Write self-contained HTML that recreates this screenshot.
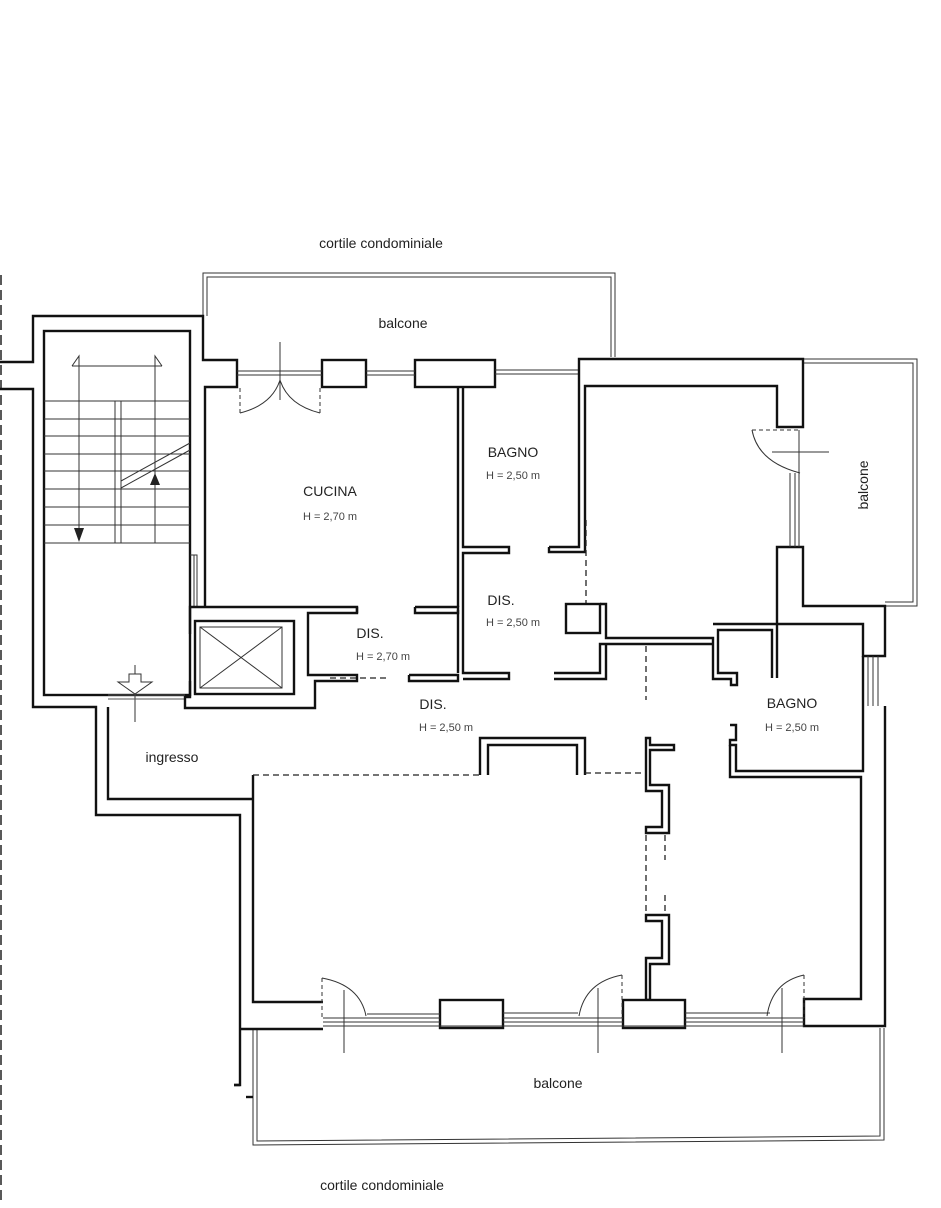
<!DOCTYPE html>
<html><head><meta charset="utf-8"><style>
html,body{margin:0;padding:0;background:#fff}
svg{display:block}
text{font-family:"Liberation Sans",sans-serif;fill:#222}
.w{fill:#fff;stroke:#111;stroke-width:2.4;stroke-linejoin:miter}
.l{fill:none;stroke:#111;stroke-width:2.4}
.t{fill:none;stroke:#333;stroke-width:1}
.d{fill:none;stroke:#222;stroke-width:1.3;stroke-dasharray:6 4}
.lab{font-size:14px}
.h{font-size:11px;fill:#444}
</style></head><body>
<svg width="941" height="1208" viewBox="0 0 941 1208" xmlns="http://www.w3.org/2000/svg">
<!-- left dashed boundary -->
<line x1="1" y1="275" x2="1" y2="1200" stroke="#222" stroke-width="1.5" stroke-dasharray="10 5"/>

<!-- top balcony -->
<polyline class="t" points="203,316 203,273 615,273 615,357"/>
<polyline class="t" points="207,316 207,277 611,277 611,357"/>
<!-- right balcony -->
<polyline class="t" points="803,359 917,359 917,606 885,606"/>
<polyline class="t" points="803,363 913,363 913,602 885,602"/>
<!-- bottom balcony -->
<polyline class="t" points="253,1029 253,1145 884,1140 884,1028"/>
<polyline class="t" points="257,1029 257,1141 880,1136 880,1028"/>

<!-- stair block -->
<polyline class="l" points="0,362 33,362 33,316 203,316 203,360 237,360 237,387 205,387 205,607"/>
<polyline class="l" points="0,389 33,389 33,707 96,707 96,815 240,815 240,1085 234,1085"/>
<rect x="44" y="331" width="146" height="364" class="w"/>
<polyline class="t" points="190,555 197,555 197,607"/>
<polyline class="t" points="194,555 194,607"/>
<!-- stairs -->
<g stroke="#333" stroke-width="1">
<line x1="44" y1="401" x2="190" y2="401"/><line x1="44" y1="419" x2="190" y2="419"/>
<line x1="44" y1="436" x2="190" y2="436"/><line x1="44" y1="454" x2="190" y2="454"/>
<line x1="44" y1="471" x2="190" y2="471"/><line x1="44" y1="489" x2="190" y2="489"/>
<line x1="44" y1="507" x2="190" y2="507"/><line x1="44" y1="525" x2="190" y2="525"/>
<line x1="44" y1="543" x2="190" y2="543"/>
<line x1="115" y1="401" x2="115" y2="543"/><line x1="121" y1="401" x2="121" y2="543"/>
<line x1="121" y1="488" x2="190" y2="450"/><line x1="121" y1="481" x2="190" y2="443"/>
<line x1="72" y1="366" x2="162" y2="366"/>
<line x1="79" y1="356" x2="79" y2="540"/><line x1="155" y1="356" x2="155" y2="543"/>
<polyline fill="none" points="72,366 79,356 79,366"/><polyline fill="none" points="162,366 155,356 155,366"/>
</g>
<polygon points="74,528 84,528 79,542" fill="#222"/>
<polygon points="150,485 160,485 155,473" fill="#222"/>
<!-- ingresso arrow -->
<line x1="135" y1="665" x2="135" y2="722" stroke="#333"/>
<polygon points="129,674 141,674 141,682 152,682 135,694 118,682 129,682" fill="#fff" stroke="#333"/>
<line x1="108" y1="695" x2="185" y2="695" stroke="#555" stroke-width="1"/>
<line x1="108" y1="699" x2="185" y2="699" stroke="#555" stroke-width="1"/>
<polyline class="l" points="108,707 108,799 253,799"/>

<!-- lift -->
<polyline class="l" points="190,634 190,607 357,607 357,613 308,613 308,675 357,675 357,681 315,681 315,708 185,708 185,697 190,697 190,681"/>
<rect x="195" y="621" width="99" height="73" class="w"/>
<rect x="200" y="627" width="82" height="61" class="t"/>
<line x1="200" y1="627" x2="282" y2="688" stroke="#333"/><line x1="282" y1="627" x2="200" y2="688" stroke="#333"/>
<line x1="330" y1="678" x2="390" y2="678" class="d"/>

<!-- top wall piers and windows -->
<rect x="322" y="360" width="44" height="27" class="w"/>
<rect x="415" y="360" width="80" height="27" class="w"/>
<g stroke="#333" stroke-width="1">
<line x1="237" y1="371" x2="322" y2="371"/><line x1="237" y1="375" x2="322" y2="375"/>
<line x1="366" y1="371" x2="415" y2="371"/><line x1="366" y1="375" x2="415" y2="375"/>
<line x1="495" y1="370" x2="580" y2="370"/><line x1="495" y1="374" x2="580" y2="374"/>
</g>
<!-- kitchen door -->
<g fill="none" stroke="#333" stroke-width="1">
<line x1="280" y1="342" x2="280" y2="400"/>
<line x1="240" y1="388" x2="240" y2="415" stroke-dasharray="4 3"/>
<line x1="320" y1="388" x2="320" y2="415" stroke-dasharray="4 3"/>
<path d="M240,413 Q272,405 280,380"/><path d="M320,413 Q288,405 280,380"/>
</g>
<!-- kitchen/bagno partitions -->
<polyline class="l" points="458,387 458,607"/>
<polyline class="l" points="463,387 463,547 509,547 509,553 463,553 463,673 509,673 509,679 463,679"/>
<polyline class="l" points="458,610 458,673"/>
<polyline class="l" points="357,607 357,613"/>
<polyline class="l" points="415,607 458,607 458,613 415,613 415,607"/>
<polyline class="l" points="409,675 458,675 458,681 409,681 409,675"/>
<polyline class="l" points="549,547 579,547 579,359 803,359 803,427 777,427 777,386 585,386 585,552 549,552 549,547"/>
<line x1="586" y1="520" x2="586" y2="604" class="d"/>
<rect x="566" y="604" width="34" height="29" class="w"/>
<polyline class="l" points="600,604 606,604 606,638 713,638 713,679 731,679 731,685 737,685 737,673 718,673 718,630 772,630 772,678"/>
<polyline class="l" points="554,673 600,673 600,644 713,644"/>
<polyline class="l" points="554,679 606,679 606,644"/>
<line x1="646" y1="646" x2="646" y2="700" class="d"/>
<polyline class="l" points="713,624 863,624 863,656 885,656 885,606 803,606 803,547 777,547 777,678"/>
<!-- balcony door top right -->
<g fill="none" stroke="#333" stroke-width="1">
<line x1="752" y1="430" x2="800" y2="430" stroke-dasharray="4 3"/>
<path d="M752,430 Q758,462 800,473"/>
<line x1="772" y1="452" x2="829" y2="452"/>
<line x1="790" y1="473" x2="790" y2="547"/><line x1="795" y1="473" x2="795" y2="547"/><line x1="799" y1="430" x2="799" y2="547"/>
<line x1="868" y1="656" x2="868" y2="706"/><line x1="873" y1="656" x2="873" y2="706"/><line x1="878" y1="656" x2="878" y2="706"/>
</g>
<!-- right bagno -->
<polyline class="l" points="863,656 863,771 736,771 736,745 730,745 730,740 736,740 736,725 730,725"/>
<polyline class="l" points="885,706 885,1026 804,1026 804,999 861,999 861,777 730,777 730,745"/>

<!-- central pier -->
<polyline class="l" points="253,775 253,1002 323,1002"/>
<polyline class="l" points="240,1029 323,1029"/>
<line x1="253" y1="775" x2="482" y2="775" class="d"/>
<polyline class="l" points="480,775 480,738 585,738 585,775"/>
<polyline class="l" points="488,775 488,745 577,745 577,775"/>
<line x1="585" y1="773" x2="645" y2="773" class="d"/>
<!-- middle partition -->
<polygon class="w" points="646,738 650,738 650,745 674,745 674,750 650,750 650,785 669,785 669,833 646,833 646,827 662,827 662,791 646,791"/>
<polygon class="w" points="646,915 669,915 669,964 650,964 650,1000 646,1000 646,958 662,958 662,921 646,921"/>
<line x1="646" y1="835" x2="646" y2="913" class="d"/>
<line x1="665" y1="835" x2="665" y2="860" class="d"/>
<line x1="665" y1="895" x2="665" y2="913" class="d"/>
<!-- south piers -->
<rect x="440" y="1000" width="63" height="28" class="w"/>
<rect x="623" y="1000" width="62" height="28" class="w"/>
<g stroke="#333" stroke-width="1" fill="none">
<line x1="323" y1="1018" x2="440" y2="1018"/><line x1="323" y1="1022" x2="440" y2="1022"/>
<line x1="503" y1="1018" x2="623" y2="1018"/><line x1="503" y1="1022" x2="623" y2="1022"/>
<line x1="685" y1="1018" x2="804" y2="1018"/><line x1="685" y1="1022" x2="804" y2="1022"/>
<line x1="367" y1="1014" x2="440" y2="1014"/><line x1="503" y1="1013" x2="578" y2="1013"/><line x1="685" y1="1013" x2="770" y2="1013"/>
<line x1="323" y1="1026" x2="804" y2="1026"/>
<!-- doors -->
<line x1="322" y1="978" x2="322" y2="1018" stroke-dasharray="4 3"/><path d="M322,978 Q360,985 366,1016"/><line x1="344" y1="990" x2="344" y2="1053"/>
<line x1="622" y1="975" x2="622" y2="1018" stroke-dasharray="4 3"/><path d="M622,975 Q585,982 579,1016"/><line x1="598" y1="988" x2="598" y2="1053"/>
<line x1="804" y1="975" x2="804" y2="1018" stroke-dasharray="4 3"/><path d="M804,975 Q772,982 767,1016"/><line x1="782" y1="988" x2="782" y2="1053"/>
</g>
<polyline class="l" points="234,1085 240,1085"/>
<polyline class="l" points="246,1097 253,1097"/>

<!-- labels -->
<text x="381" y="248" class="lab" text-anchor="middle">cortile condominiale</text>
<text x="382" y="1190" class="lab" text-anchor="middle">cortile condominiale</text>
<text x="403" y="328" class="lab" text-anchor="middle">balcone</text>
<text x="558" y="1088" class="lab" text-anchor="middle">balcone</text>
<text x="0" y="0" class="lab" text-anchor="middle" transform="translate(868,485) rotate(-90)">balcone</text>
<text x="330" y="496" class="lab" text-anchor="middle">CUCINA</text>
<text x="330" y="520" class="h" text-anchor="middle">H = 2,70 m</text>
<text x="513" y="457" class="lab" text-anchor="middle">BAGNO</text>
<text x="513" y="479" class="h" text-anchor="middle">H = 2,50 m</text>
<text x="501" y="605" class="lab" text-anchor="middle">DIS.</text>
<text x="513" y="626" class="h" text-anchor="middle">H = 2,50 m</text>
<text x="370" y="638" class="lab" text-anchor="middle">DIS.</text>
<text x="383" y="660" class="h" text-anchor="middle">H = 2,70 m</text>
<text x="433" y="709" class="lab" text-anchor="middle">DIS.</text>
<text x="446" y="731" class="h" text-anchor="middle">H = 2,50 m</text>
<text x="792" y="708" class="lab" text-anchor="middle">BAGNO</text>
<text x="792" y="731" class="h" text-anchor="middle">H = 2,50 m</text>
<text x="172" y="762" class="lab" text-anchor="middle">ingresso</text>
</svg>
</body></html>
